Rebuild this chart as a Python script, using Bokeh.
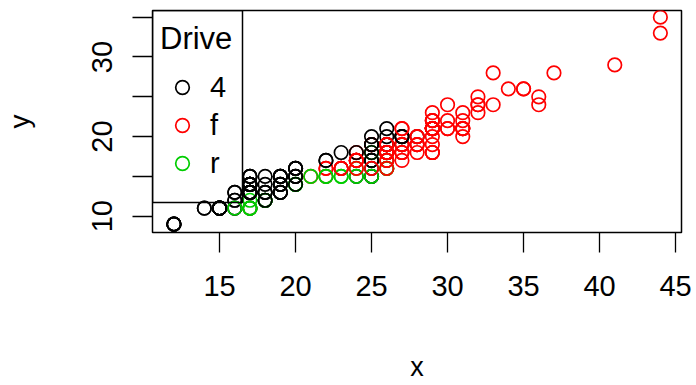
from bokeh.plotting import figure
from bokeh.models import (Range1d, FixedTicker, Legend, LegendItem, Label,
                          BoxAnnotation, ColumnDataSource)
from bokeh.transform import factor_cmap
from bokeh.embed import file_html
from bokeh.resources import INLINE

# ---- data (hwy -> x, cty -> y, drv -> colour group) ----
hwy = [29, 29, 31, 30, 26, 26, 27, 26, 25, 28, 27, 25, 25, 25, 25, 24, 25, 23,
       20, 15, 20, 17, 17, 26, 23, 26, 25, 24, 19, 14, 15, 17, 27, 30, 26, 29,
       26, 24, 24, 22, 22, 24, 24, 17, 22, 21, 23, 23, 19, 18, 17, 17, 19, 19,
       12, 17, 15, 17, 17, 12, 17, 16, 18, 15, 16, 12, 17, 17, 16, 12, 15, 16,
       17, 15, 17, 17, 18, 17, 19, 17, 19, 19, 17, 17, 17, 16, 16, 17, 15, 17,
       26, 25, 26, 24, 21, 22, 23, 22, 20, 33, 32, 32, 29, 32, 34, 36, 36, 29,
       26, 27, 30, 31, 26, 26, 28, 26, 29, 28, 27, 24, 24, 24, 22, 19, 20, 17,
       12, 19, 18, 14, 15, 18, 18, 15, 17, 16, 18, 17, 19, 19, 17, 29, 27, 31,
       32, 27, 26, 26, 25, 25, 17, 17, 20, 18, 26, 26, 27, 28, 25, 25, 24, 27,
       25, 26, 23, 26, 26, 26, 26, 27, 25, 25, 27, 20, 20, 19, 17, 20, 17, 29,
       27, 31, 31, 26, 26, 28, 27, 29, 31, 31, 26, 26, 27, 30, 33, 35, 37, 35,
       15, 18, 20, 20, 22, 17, 19, 18, 20, 29, 26, 29, 29, 24, 44, 29, 26, 29,
       29, 29, 29, 23, 24, 44, 41, 29, 26, 28, 29, 29, 29, 28, 29, 26, 26, 26]
cty = [18, 21, 20, 21, 16, 18, 18, 18, 16, 20, 19, 15, 17, 17, 15, 15, 17, 16,
       14, 11, 14, 13, 12, 16, 15, 16, 15, 15, 14, 11, 11, 14, 19, 22, 18, 18,
       17, 18, 17, 16, 16, 17, 17, 11, 15, 15, 16, 16, 15, 14, 13, 14, 14, 14,
       9, 11, 11, 13, 13, 9, 13, 11, 13, 11, 12, 9, 13, 13, 12, 9, 11, 11,
       13, 11, 11, 11, 12, 14, 15, 14, 13, 13, 13, 14, 14, 13, 13, 13, 11, 13,
       18, 18, 17, 16, 15, 15, 15, 15, 14, 28, 24, 25, 23, 24, 26, 25, 24, 21,
       18, 18, 21, 21, 18, 18, 19, 19, 19, 20, 20, 17, 16, 17, 17, 15, 15, 14,
       9, 14, 13, 11, 11, 12, 12, 11, 11, 11, 12, 14, 13, 13, 13, 21, 19, 23,
       23, 19, 19, 18, 19, 19, 14, 15, 14, 12, 18, 16, 17, 18, 16, 18, 18, 20,
       19, 20, 18, 21, 19, 19, 19, 20, 20, 19, 20, 15, 16, 15, 15, 16, 14, 21,
       21, 21, 21, 18, 18, 19, 21, 21, 22, 21, 18, 18, 18, 24, 24, 26, 28, 26,
       11, 13, 15, 16, 17, 15, 15, 15, 16, 21, 19, 21, 22, 17, 33, 21, 19, 22,
       21, 21, 21, 16, 17, 35, 29, 21, 19, 20, 20, 21, 18, 19, 22, 17, 18, 17]
drv = (["f"] * 7 + ["4"] * 11 + ["r"] * 10 + ["4"] * 4 + ["f"] * 16 + ["4"] * 26
       + ["r"] * 3 + ["4"] * 13 + ["r"] * 9 + ["f"] * 23 + ["4"] * 12 + ["r"] * 3
       + ["4"] * 4 + ["f"] * 9 + ["4"] * 4 + ["f"] * 5 + ["4"] * 20 + ["f"] * 19
       + ["4"] * 9 + ["f"] * 27)

drive_levels = ["4", "f", "r"]
drive_colors = ["#000000", "#FF0000", "#00CD00"]
x_ticks = [15, 20, 25, 30, 35, 40, 45]
y_ticks = [10, 15, 20, 25, 30, 35]
y_label_overrides = {15: "", 25: "", 35: ""}
legend_title = "Drive"
x_title = "x"
y_title = "y"

FONT = "Liberation Sans"

src = ColumnDataSource(dict(hwy=hwy, cty=cty, drv=drv))

p = figure(width=696, height=385, output_backend="svg", toolbar_location=None,
           x_range=Range1d(10.59, 45.39), y_range=Range1d(7.95, 35.84),
           min_border_left=152, min_border_right=15, min_border_top=10,
           min_border_bottom=153)
p.xgrid.visible = False
p.ygrid.visible = False
p.outline_line_color = "black"
p.outline_line_width = 1.5
p.outline_line_alpha = 1.0
p.background_fill_color = "white"
p.border_fill_color = "white"

r = p.scatter("hwy", "cty", source=src, marker="circle", size=13.5,
              fill_color=None, line_width=1.7,
              line_color=factor_cmap("drv", palette=drive_colors, factors=drive_levels))

for ax in (p.xaxis[0], p.yaxis[0]):
    ax.axis_line_color = None
    ax.major_tick_out = 20
    ax.major_tick_in = 0
    ax.major_tick_line_color = "black"
    ax.major_tick_line_width = 1.3
    ax.minor_tick_line_color = None
    ax.major_label_text_font = FONT
    ax.major_label_text_font_size = "29px"
    ax.major_label_text_color = "black"
    ax.axis_label_text_font = FONT
    ax.axis_label_text_font_style = "normal"
    ax.axis_label_text_color = "black"

p.xaxis.ticker = FixedTicker(ticks=x_ticks)
p.yaxis.ticker = FixedTicker(ticks=y_ticks)
p.yaxis.major_label_overrides = y_label_overrides
p.yaxis.major_label_orientation = "vertical"
p.xaxis.major_label_standoff = 23
p.yaxis.major_label_standoff = 20
p.xaxis.axis_label = x_title
p.yaxis.axis_label = y_title
p.xaxis.axis_label_text_font_size = "27px"
p.yaxis.axis_label_text_font_size = "28px"
p.xaxis.axis_label_standoff = 53
p.yaxis.axis_label_standoff = 55

items = [LegendItem(label=lvl, renderers=[r], index=drv.index(lvl)) for lvl in drive_levels]
legend = Legend(items=items, location=(13, 50), orientation="vertical",
                padding=0, spacing=0, margin=0,
                glyph_width=34, glyph_height=38, label_height=38,
                label_standoff=11, label_text_font=FONT,
                label_text_font_size="29px", label_text_color="black",
                border_line_color=None, background_fill_alpha=0)
p.add_layout(legend)

box = BoxAnnotation(left=0, left_units="screen", right=90, right_units="screen",
                    bottom=30, bottom_units="screen", top=222, top_units="screen",
                    fill_alpha=0, line_color="black", line_alpha=1.0, line_width=1.5)
p.add_layout(box)

title = Label(x=7.5, y=194.3, x_units="screen", y_units="screen", text=legend_title,
              text_font=FONT, text_font_size="31px", text_baseline="alphabetic",
              text_align="left", text_color="black")
p.add_layout(title)

open("out.html", "w").write(file_html(p, INLINE))
